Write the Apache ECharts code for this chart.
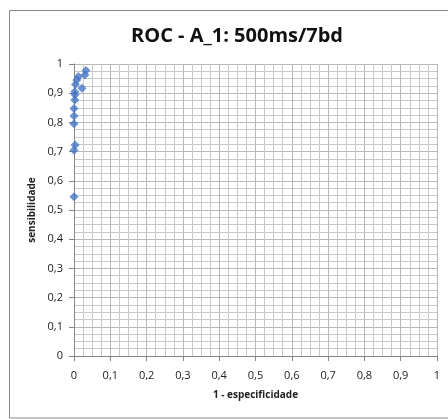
<!DOCTYPE html>
<html><head><meta charset="utf-8">
<script src="https://cdn.jsdelivr.net/npm/echarts@6/dist/echarts.min.js"></script>
<style>html,body{margin:0;padding:0;background:#fff}#c{width:448px;height:419px}</style>
</head><body><div id="c"></div>
<script>
var titleText = 'ROC - A_1: 500ms/7bd';
var xName = '1 - especificidade';
var yName = 'sensibilidade';
var fpr = [0.033, 0.030, 0.012, 0.008, 0.004, 0.022, 0.002, 0.003, 0.002, 0.000, 0.000, 0.000, 0.003, 0.000, 0.000];
var tpr = [0.978, 0.962, 0.957, 0.945, 0.930, 0.917, 0.905, 0.895, 0.877, 0.848, 0.822, 0.795, 0.723, 0.705, 0.545];

var pts = fpr.map(function(x,i){return [x,tpr[i]];});
function fmt(v){ if (Math.abs(v)<1e-9) return '0'; if (Math.abs(v-1)<1e-9) return '1'; return v.toFixed(1).replace('.',','); }
var font = '"Open Sans", "DejaVu Sans", sans-serif';
var chart = echarts.init(document.getElementById('c'), null, {renderer:'canvas'});
var axisCommon = {
  type:'value', min:0, max:1, interval:0.1,
  axisLine:{show:true, onZero:false, lineStyle:{color:'#868686', width:1}},
  axisTick:{show:true, length:5, lineStyle:{color:'#868686'}},
  axisLabel:{formatter:fmt, color:'#222', fontSize:11, fontFamily:font},
  splitLine:{show:true, lineStyle:{color:'#b8b8b8', width:1}},
  minorTick:{show:false, splitNumber:4},
  minorSplitLine:{show:true, lineStyle:{color:'#c8c8c8', width:1}},
  nameLocation:'middle',
  nameTextStyle:{fontWeight:'bold', fontSize:10, color:'#222', fontFamily:font}
};
chart.setOption({
  animation:false,
  title:{text:titleText, left:232, top:21, textAlign:'center',
    textStyle:{fontSize:20, fontWeight:'bold', color:'#111', fontFamily:font}},
  graphic:[{type:'rect', shape:{x:9.5, y:10.5, width:460, height:407.5},
    style:{fill:'none', stroke:'#8a8a8a', lineWidth:1}, silent:true, z:-10}],
  grid:{left:74, right:11, top:64, bottom:63},
  xAxis:Object.assign({}, axisCommon, {name:xName, nameGap:34,
    axisLabel:Object.assign({}, axisCommon.axisLabel, {margin:14})}),
  yAxis:Object.assign({}, axisCommon, {name:yName, nameGap:33,
    axisLabel:Object.assign({}, axisCommon.axisLabel, {margin:11})}),
  series:[{type:'scatter', data:pts, symbol:'diamond', symbolSize:9,
    itemStyle:{color:'#4577c4'}}]
});
</script></body></html>
